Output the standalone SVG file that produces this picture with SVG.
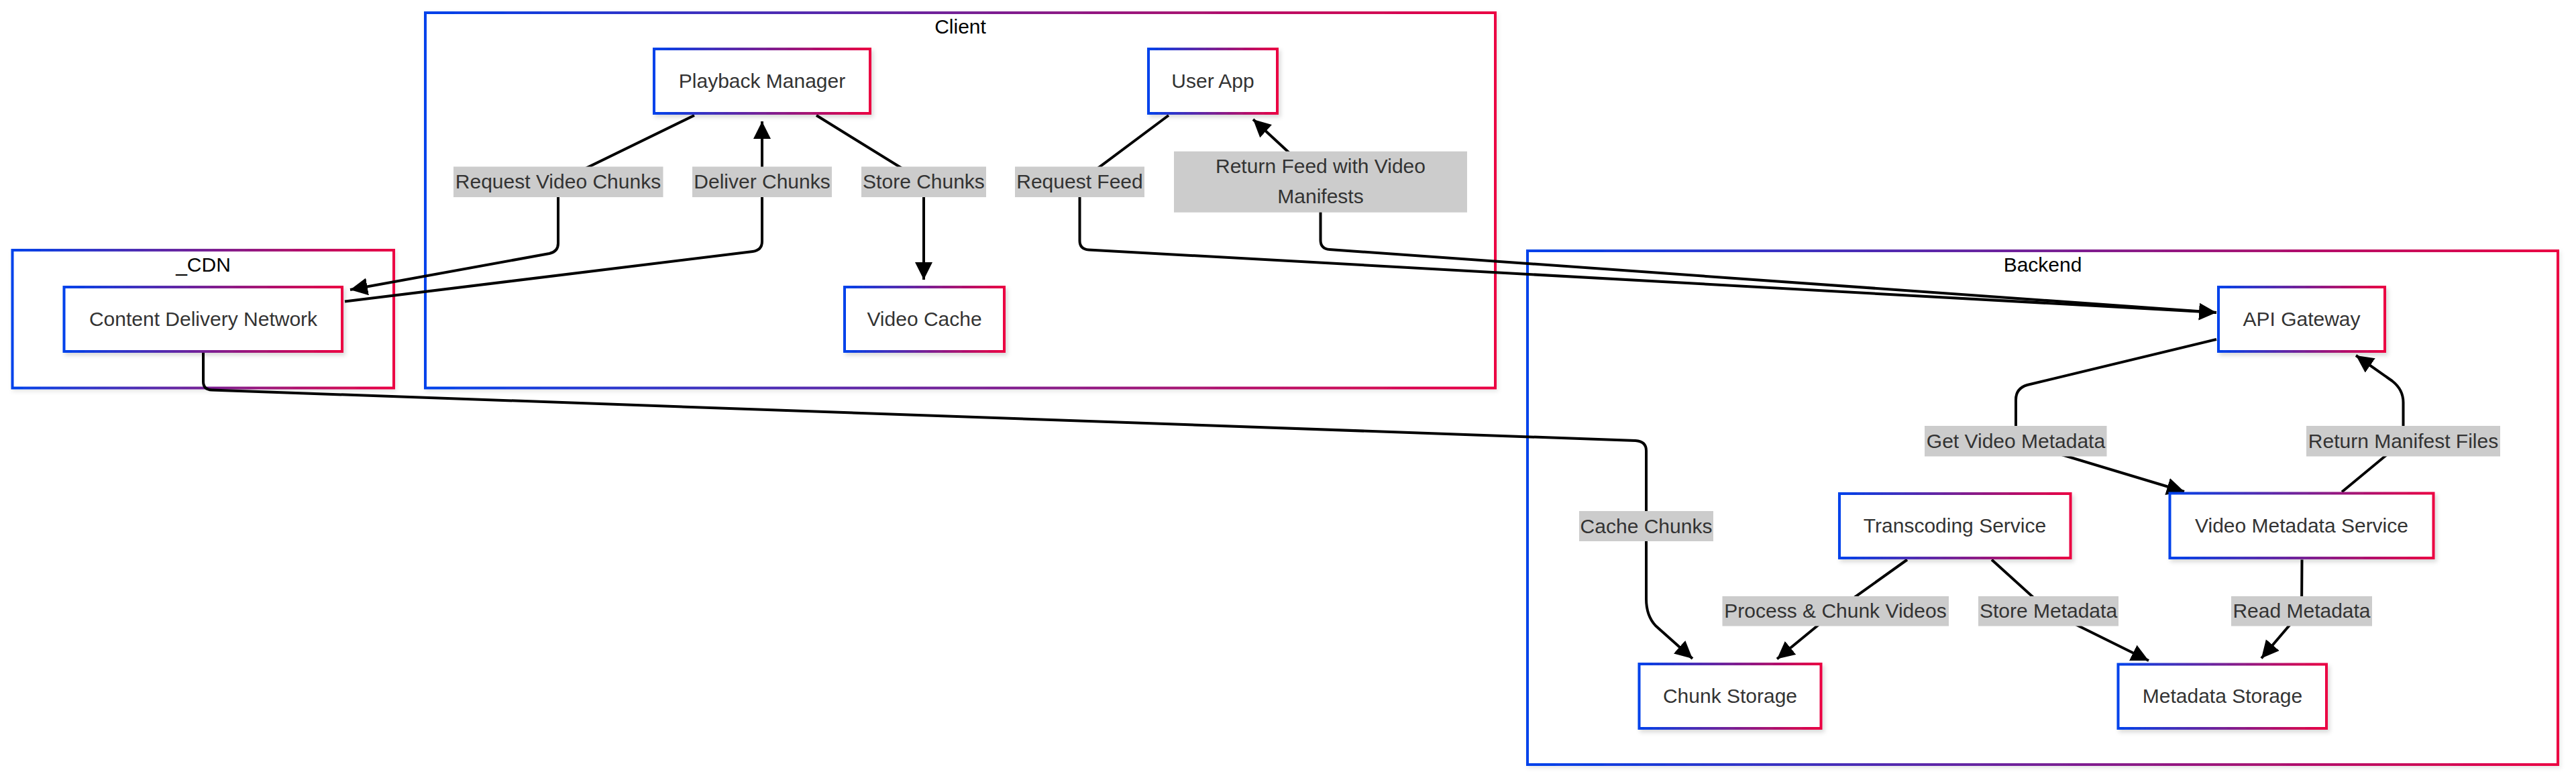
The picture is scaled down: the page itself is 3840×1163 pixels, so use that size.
<svg xmlns="http://www.w3.org/2000/svg" width="3840" height="1163" viewBox="0 0 3840 1163">
<style>
.cl{fill:#ffffff;stroke:url(#grad);stroke-width:4;filter:url(#shc)}
.nd{fill:#ffffff;stroke:url(#grad);stroke-width:4;filter:url(#sh)}
.ct{font-family:"Liberation Sans",Arial,sans-serif;font-size:30px;fill:#000000;text-anchor:middle}
.nt{font-family:"Liberation Sans",Arial,sans-serif;font-size:30px;fill:#333333;text-anchor:middle}
.lb{fill:#cccccc}
.lt{font-family:"Liberation Sans",Arial,sans-serif;font-size:30px;fill:#333333;text-anchor:middle}
.ed{fill:none;stroke:#000000;stroke-width:4;stroke-linejoin:round}
.ar{marker-end:url(#arrow)}
</style>
<defs>
<linearGradient id="grad" x1="0" y1="0" x2="1" y2="0">
<stop offset="0" stop-color="#0042eb"/>
<stop offset="1" stop-color="#eb0042"/>
</linearGradient>
<filter id="sh" x="-10%" y="-10%" width="130%" height="140%">
<feDropShadow dx="3" dy="4" stdDeviation="3" flood-color="#000000" flood-opacity="0.15"/>
</filter>
<filter id="shc" x="-5%" y="-5%" width="110%" height="110%">
<feDropShadow dx="2" dy="3" stdDeviation="3" flood-color="#000000" flood-opacity="0.1"/>
</filter>
<marker id="arrow" markerUnits="userSpaceOnUse" markerWidth="28" markerHeight="28" refX="26" refY="13" orient="auto">
<path d="M0,0 L26,13 L0,26 z" fill="#000000"/>
</marker>
</defs>
<rect x="0" y="0" width="3840" height="1163" fill="#ffffff"/>

<g id="cluster-cdn">
<rect class="cl" x="18.5" y="373" width="568.5" height="205.5"/>
<text class="ct" x="303" y="405">_CDN</text>
</g>
<g id="cluster-client">
<rect class="cl" x="634" y="19" width="1595" height="559.5"/>
<text class="ct" x="1431.5" y="50">Client</text>
</g>
<g id="cluster-backend">
<rect class="cl" x="2277" y="374" width="1536" height="766"/>
<text class="ct" x="3045" y="405">Backend</text>
</g>

<g id="connectors">
<path class="ed ar" d="M1035,172 L832,271 L832,363 Q832,375 819,378 L522,432"/>
<path class="ed ar" d="M514,449.5 L1122,375 Q1136,373 1136,360 L1136,181"/>
<path class="ed ar" d="M1217,172 L1377,271 L1377,417"/>
<path class="ed ar" d="M1742,172 L1609.5,271 L1609.5,359 Q1609.5,371.5 1623,372.5 L3304,466"/>
<path class="ed ar" d="M3304,466 L1982,372 Q1968.5,371 1968.5,358 L1968.5,271 L1868,178"/>
<path class="ed ar" d="M303,526 L303,569 Q303,581 316,581.5 L2438,657 Q2454,658 2454,672 L2454,893 Q2454,918 2468,933 L2523,982"/>
<path class="ed ar" d="M3304,506 L3022,574 Q3005,579 3005,596 L3005,657.5 L3256,733"/>
<path class="ed ar" d="M3491,733.5 L3582.5,657.7 L3582.5,600 Q3582.5,581 3566,568 L3512,530"/>
<path class="ed ar" d="M2843,834.5 L2736,911 L2649,982.5"/>
<path class="ed ar" d="M2969,834.5 L3053.5,911 L3203,985"/>
<path class="ed ar" d="M3431.5,834.5 L3431,911 L3371,981.5"/>
</g>

<g id="edge-labels">
<g id="label-request-video-chunks"><rect class="lb" x="676" y="248.5" width="312.5" height="45.5"/><text class="lt" x="832" y="281">Request Video Chunks</text></g>
<g id="label-deliver-chunks"><rect class="lb" x="1032" y="248.5" width="208" height="45.5"/><text class="lt" x="1136" y="281">Deliver Chunks</text></g>
<g id="label-store-chunks"><rect class="lb" x="1284" y="248.5" width="186" height="45.5"/><text class="lt" x="1377" y="281">Store Chunks</text></g>
<g id="label-request-feed"><rect class="lb" x="1513" y="248.5" width="193" height="45.5"/><text class="lt" x="1609.5" y="281">Request Feed</text></g>
<g id="label-return-feed"><rect class="lb" x="1750" y="225.7" width="437" height="91"/><text class="lt" x="1968.5" y="257.5">Return Feed with Video</text><text class="lt" x="1968.5" y="303">Manifests</text></g>
<g id="label-get-video-metadata"><rect class="lb" x="2869" y="635" width="271.5" height="45.5"/><text class="lt" x="3005" y="667.5">Get Video Metadata</text></g>
<g id="label-return-manifest-files"><rect class="lb" x="3438" y="635" width="289" height="45.5"/><text class="lt" x="3582.5" y="667.5">Return Manifest Files</text></g>
<g id="label-cache-chunks"><rect class="lb" x="2354" y="762" width="200" height="45"/><text class="lt" x="2454" y="794.5">Cache Chunks</text></g>
<g id="label-process-chunk-videos"><rect class="lb" x="2567.5" y="889" width="337.5" height="44.5"/><text class="lt" x="2736" y="921">Process &amp; Chunk Videos</text></g>
<g id="label-store-metadata"><rect class="lb" x="2949" y="889" width="209" height="44.5"/><text class="lt" x="3053.5" y="921">Store Metadata</text></g>
<g id="label-read-metadata"><rect class="lb" x="3326" y="889" width="210" height="44.5"/><text class="lt" x="3431" y="921">Read Metadata</text></g>
</g>

<g id="node-playback-manager">
<rect class="nd" x="975" y="73" width="322" height="96"/>
<text class="nt" x="1136" y="131">Playback Manager</text>
</g>
<g id="node-user-app">
<rect class="nd" x="1712" y="73" width="192" height="96"/>
<text class="nt" x="1808" y="131">User App</text>
</g>
<g id="node-video-cache">
<rect class="nd" x="1259" y="428" width="238" height="96"/>
<text class="nt" x="1378" y="486">Video Cache</text>
</g>
<g id="node-cdn">
<rect class="nd" x="95.5" y="428" width="414.5" height="96"/>
<text class="nt" x="303" y="486">Content Delivery Network</text>
</g>
<g id="node-api-gateway">
<rect class="nd" x="3307" y="428" width="248" height="96"/>
<text class="nt" x="3431" y="486">API Gateway</text>
</g>
<g id="node-video-metadata-service">
<rect class="nd" x="3234.5" y="735.5" width="393" height="96.5"/>
<text class="nt" x="3431" y="794">Video Metadata Service</text>
</g>
<g id="node-transcoding-service">
<rect class="nd" x="2742" y="736" width="344.5" height="96"/>
<text class="nt" x="2914" y="794">Transcoding Service</text>
</g>
<g id="node-chunk-storage">
<rect class="nd" x="2443.5" y="990" width="271" height="96"/>
<text class="nt" x="2579" y="1048">Chunk Storage</text>
</g>
<g id="node-metadata-storage">
<rect class="nd" x="3157.5" y="990.5" width="310.5" height="95.5"/>
<text class="nt" x="3313" y="1048">Metadata Storage</text>
</g>
</svg>
